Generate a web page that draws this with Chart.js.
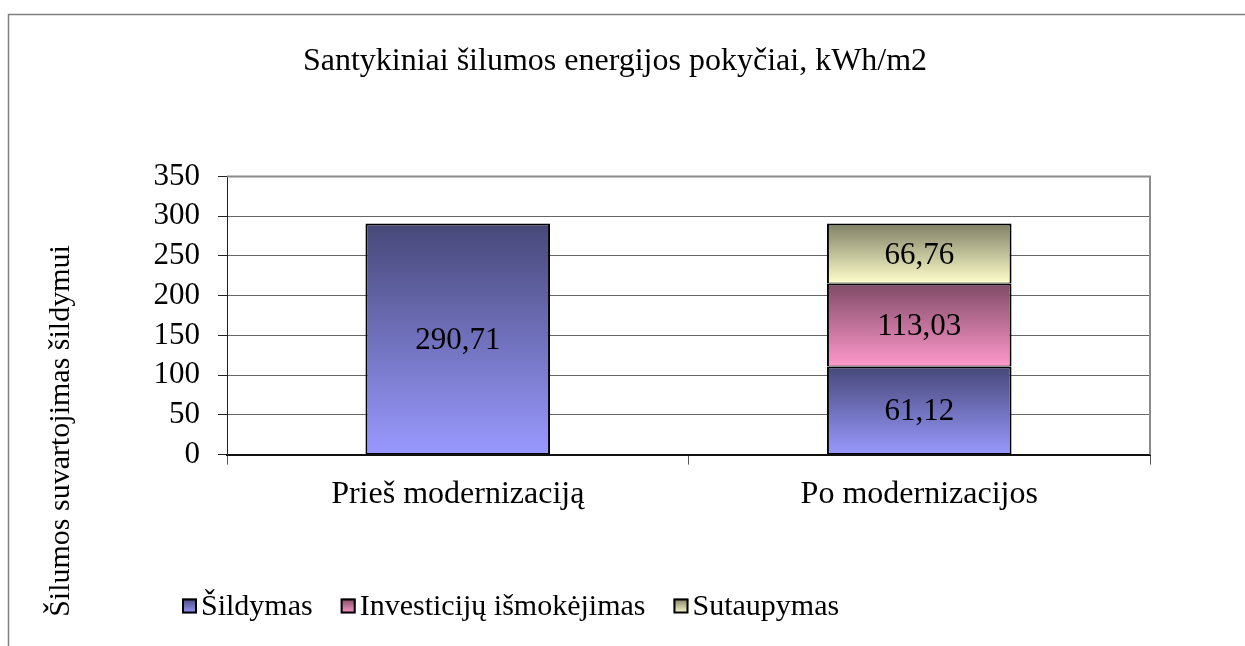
<!DOCTYPE html>
<html><head><meta charset="utf-8">
<script src="https://cdn.jsdelivr.net/npm/chart.js@4.4.1/dist/chart.umd.min.js"></script>
<style>html,body{margin:0;padding:0;background:#fff}#wrap{position:relative;width:1245px;height:646px}</style>
</head><body><div id="wrap"><canvas id="c"></canvas></div>
<script>
// ---- data ----
const chartTitle = 'Santykiniai šilumos energijos pokyčiai, kWh/m2';
const yAxisTitle = 'Šilumos suvartojimas šildymui';
const categories = ['Prieš modernizaciją', 'Po modernizacijos'];
const seriesNames = ['Šildymas', 'Investicijų išmokėjimas', 'Sutaupymas'];
// segment heights as drawn in the picture
const sildymas = [290.71, 110.7];
const investicijos = [null, 104.6];
const sutaupymas = [null, 75.41];
// value labels as printed in the picture
const sildymasLabels = ['290,71', '61,12'];
const investicijosLabels = [null, '113,03'];
const sutaupymasLabels = [null, '66,76'];
const yMin = 0, yMax = 350, yStep = 50;

// ---- styles ----
const FONT = '"Liberation Serif", "Times New Roman", serif';
const palette = [
  { top: '#474878', bottom: '#9999ff' },
  { top: '#7f4a66', bottom: '#ff99cc' },
  { top: '#808066', bottom: '#ffffcc' }
];

function gradFill(idx) {
  const c = palette[idx];
  return (ctx) => {
    const chart = ctx.chart;
    const y = chart.scales && chart.scales.y;
    if (!chart.chartArea || !y || ctx.type !== 'data') return c.bottom;
    const i = ctx.dataIndex, d = ctx.datasetIndex;
    let base = 0;
    for (let k = 0; k < d; k++) { const v = chart.data.datasets[k].data[i]; if (v) base += v; }
    const v = chart.data.datasets[d].data[i] || 0;
    const p0 = y.getPixelForValue(base + v), p1 = y.getPixelForValue(base);
    if (!isFinite(p0) || !isFinite(p1) || p0 === p1) return c.bottom;
    const g = chart.ctx.createLinearGradient(0, p0, 0, p1);
    g.addColorStop(0, c.top);
    g.addColorStop(1, c.bottom);
    return g;
  };
}

const frameBg = {
  id: 'frameBg',
  beforeDraw(chart) {
    const ctx = chart.ctx;
    ctx.save();
    ctx.fillStyle = '#fff';
    ctx.fillRect(0, 0, chart.width, chart.height);
    ctx.strokeStyle = '#808080';
    ctx.lineWidth = 1.5;
    ctx.beginPath();
    ctx.moveTo(8.5, chart.height + 2);
    ctx.lineTo(8.5, 14.5);
    ctx.lineTo(chart.width + 2, 14.5);
    ctx.stroke();
    ctx.restore();
  }
};

const plotBorder = {
  id: 'plotBorder',
  afterDraw(chart) {
    const a = chart.chartArea, ctx = chart.ctx;
    ctx.save();
    ctx.strokeStyle = '#8c8c8c';
    ctx.lineWidth = 2;
    ctx.beginPath();
    ctx.moveTo(a.left, a.top);
    ctx.lineTo(a.right, a.top);
    ctx.lineTo(a.right, a.bottom);
    ctx.stroke();
    ctx.restore();
  }
};

const valueLabels = {
  id: 'valueLabels',
  afterDatasetsDraw(chart) {
    const ctx = chart.ctx;
    ctx.save();
    ctx.font = '31px ' + FONT;
    ctx.fillStyle = '#000';
    ctx.textAlign = 'center';
    ctx.textBaseline = 'middle';
    chart.data.datasets.forEach((ds, di) => {
      const meta = chart.getDatasetMeta(di);
      meta.data.forEach((el, i) => {
        const t = ds.valueLabels[i];
        if (!t || ds.data[i] == null) return;
        ctx.fillText(t, el.x, (el.y + el.base) / 2 + 2);
      });
    });
    ctx.restore();
  }
};

const yTitle = {
  id: 'yTitle',
  afterDraw(chart) {
    const ctx = chart.ctx;
    ctx.save();
    ctx.translate(61, 431);
    ctx.rotate(-Math.PI / 2);
    ctx.font = '30px ' + FONT;
    ctx.fillStyle = '#000';
    ctx.textAlign = 'center';
    ctx.textBaseline = 'middle';
    ctx.fillText(yAxisTitle, 0, 0);
    ctx.restore();
  }
};

const customLegend = {
  id: 'customLegend',
  afterDraw(chart) {
    const ctx = chart.ctx;
    ctx.save();
    ctx.font = '30px ' + FONT;
    ctx.textBaseline = 'middle';
    ctx.textAlign = 'left';
    let x = 182;
    const cy = 606, box = 15;
    chart.data.datasets.forEach((ds, di) => {
      const c = palette[di];
      const g = ctx.createLinearGradient(0, cy - box / 2, 0, cy + box / 2);
      g.addColorStop(0, c.top);
      g.addColorStop(1, c.bottom);
      ctx.fillStyle = g;
      ctx.fillRect(x, cy - box / 2, box, box);
      ctx.strokeStyle = '#000';
      ctx.lineWidth = 2;
      ctx.strokeRect(x + 1, cy - box / 2 + 1, box - 2, box - 2);
      ctx.fillStyle = '#000';
      const tx = x + box + 4;
      ctx.fillText(ds.label, tx, cy + 1);
      x = tx + ctx.measureText(ds.label).width + 28;
    });
    ctx.restore();
  }
};

const seriesValues = [sildymas, investicijos, sutaupymas];
const seriesLabels = [sildymasLabels, investicijosLabels, sutaupymasLabels];

new Chart(document.getElementById('c'), {
  type: 'bar',
  data: {
    labels: categories,
    datasets: seriesNames.map((name, i) => ({
      label: name,
      data: seriesValues[i],
      valueLabels: seriesLabels[i],
      backgroundColor: gradFill(i),
      borderColor: '#000',
      borderWidth: { top: 2, left: 2, right: 2, bottom: 1 },
      borderSkipped: false,
      barPercentage: 0.4,
      categoryPercentage: 1.0
    }))
  },
  options: {
    responsive: true,
    maintainAspectRatio: false,
    animation: false,
    layout: { padding: { left: 80, right: 95, top: 0, bottom: 121 } },
    plugins: {
      legend: { display: false },
      tooltip: { enabled: false },
      title: {
        display: true,
        text: chartTitle,
        color: '#000',
        font: { family: FONT, size: 32, weight: 'normal' },
        padding: { top: 42, bottom: 96 }
      }
    },
    scales: {
      x: {
        stacked: true,
        grid: { drawOnChartArea: false, drawTicks: true, tickLength: 10, tickColor: '#555', offset: true },
        border: { display: true, color: '#111', width: 2 },
        ticks: { color: '#000', font: { family: FONT, size: 32 }, padding: 11, maxRotation: 0 }
      },
      y: {
        stacked: true,
        min: yMin, max: yMax,
        afterFit: (scale) => { scale.width = 147; },
        grid: {
          color: (c) => (c.tick && c.tick.value === yMax) ? '#999' : '#666',
          lineWidth: 1,
          tickLength: 9,
          tickColor: '#222'
        },
        border: { display: true, color: '#222', width: 1 },
        ticks: { stepSize: yStep, autoSkip: false, color: '#000', font: { family: FONT, size: 31 }, padding: 18 }
      }
    }
  },
  plugins: [frameBg, plotBorder, valueLabels, yTitle, customLegend]
});
</script>
</body></html>
